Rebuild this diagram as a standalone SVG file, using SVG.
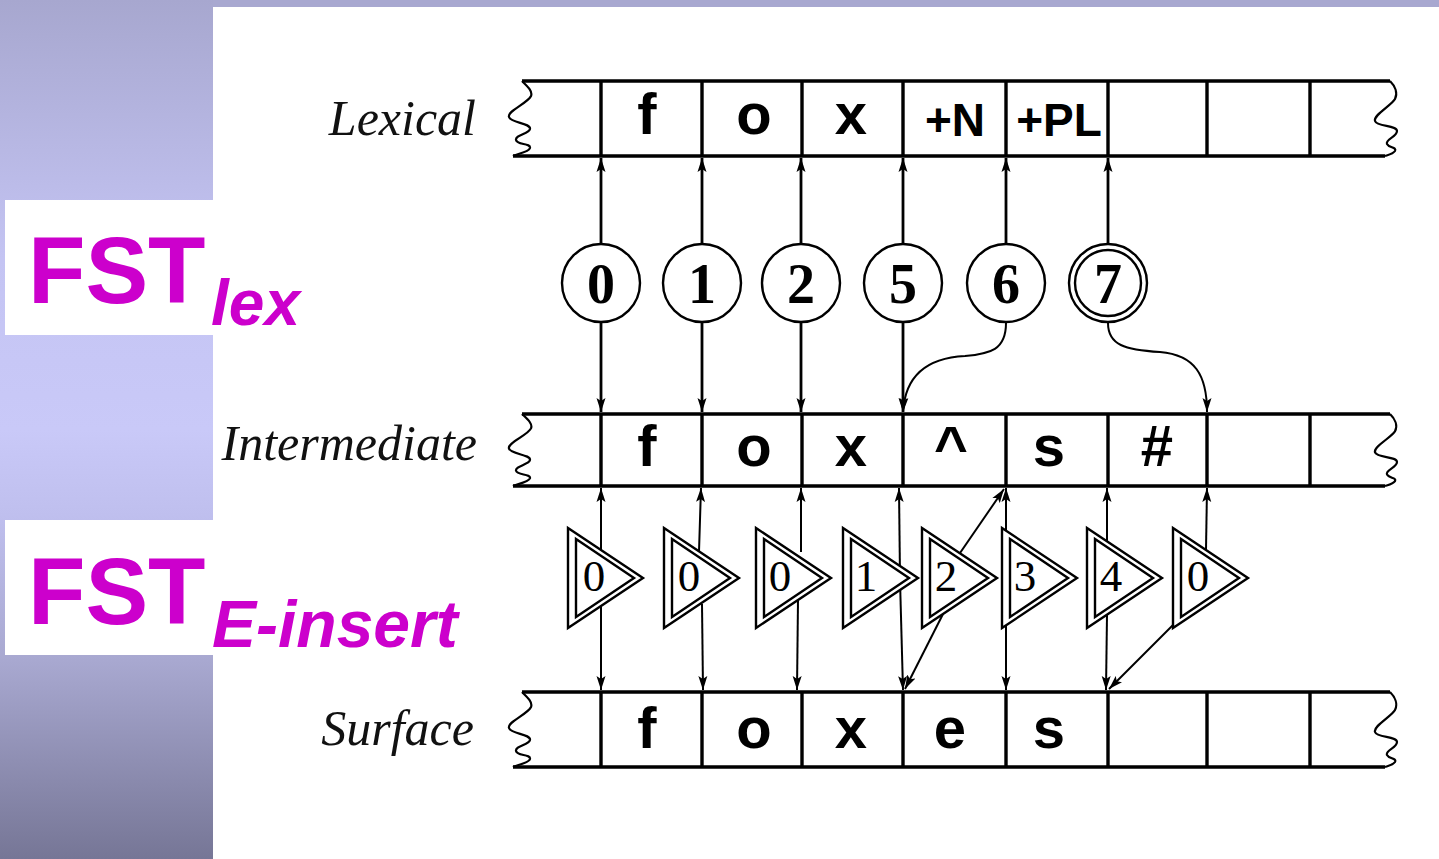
<svg xmlns="http://www.w3.org/2000/svg" width="1439" height="859" viewBox="0 0 1439 859">
<defs>
<linearGradient id="strip" x1="0" y1="0" x2="0" y2="859" gradientUnits="userSpaceOnUse">
<stop offset="0" stop-color="#a7a7cf"/>
<stop offset="0.3" stop-color="#c4c4f3"/>
<stop offset="0.5" stop-color="#c9c9f8"/>
<stop offset="0.6" stop-color="#bfbfee"/>
<stop offset="0.77" stop-color="#a8a8d0"/>
<stop offset="1" stop-color="#767696"/>
</linearGradient>
<marker id="ah" viewBox="0 0 14 10" refX="14" refY="5" markerWidth="14" markerHeight="10" markerUnits="userSpaceOnUse" orient="auto">
<path d="M0,0.5 L14,5 L0,9.5 L3,5 z" fill="#000"/>
</marker>
<path id="sqL" d="M9,0 C14,5 20,10 18,15 C15,22 -6,30 -4,36 C-2,42 18,42 17,48 C16,53 2,54 3,59 C4,64 18,62 17,67 C16,71 4,73 0,75"/>
<path id="sqR" d="M5,0 C10,5 13,12 10,18 C7,24 -12,34 -10,40 C-8,46 12,44 12,50 C12,56 0,58 2,63 C4,67 12,66 10,70 C8,73 3,74 0,75"/>
<path id="tri" d="M0,0 L75,50 L0,100 Z M8,11 L66,50 L8,89 Z"/>
</defs>
<style>
.tape{stroke:#000;stroke-width:3.4;fill:none}
.sq{stroke:#000;stroke-width:2.2;fill:none}
.sym{font-family:"Liberation Sans",Arial,sans-serif;font-weight:bold;font-size:58px;text-anchor:middle;fill:#000}
.sym2{font-family:"Liberation Sans",Arial,sans-serif;font-weight:bold;font-size:46px;text-anchor:middle;fill:#000}
.lab{font-family:"Liberation Serif","Times New Roman",serif;font-style:italic;font-size:50px;text-anchor:end;fill:#111}
.st{fill:#fff;stroke:#000;stroke-width:2.4}
.stn{font-family:"Liberation Serif","Times New Roman",serif;font-weight:bold;font-size:56px;text-anchor:middle;fill:#000}
.tr{fill:#fff;stroke:#000;stroke-width:2.4}
.trn{font-family:"Liberation Serif","Times New Roman",serif;font-size:45px;text-anchor:middle;fill:#000}
.c1{stroke:#000;stroke-width:2.8;fill:none}
.c2{stroke:#000;stroke-width:2;fill:none}
.fst{font-family:"Liberation Sans",Arial,sans-serif;font-weight:bold;fill:#cc00cc}
</style>

<!-- background -->
<rect x="0" y="0" width="1439" height="859" fill="#fff"/>
<rect x="0" y="0" width="213" height="859" fill="url(#strip)"/>
<rect x="213" y="0" width="1226" height="7" fill="#a8a8d0"/>

<g id="fst-lex-label">
<rect x="5" y="200" width="208" height="135" fill="#fff"/>
<text class="fst" x="28" y="303" font-size="94">FST</text>
<text class="fst" x="211" y="325" font-size="64" font-style="italic">lex</text>
</g>
<g id="fst-einsert-label">
<rect x="5" y="520" width="208" height="135" fill="#fff"/>
<text class="fst" x="28" y="624" font-size="94">FST</text>
<text class="fst" x="212" y="647" font-size="66" font-style="italic">E-insert</text>
</g>

<!-- tapes -->
<g id="tape-lexical">
<text class="lab" x="476" y="135">Lexical</text>
<path class="tape" d="M522,81 H1390 M513,156 H1385 M601,81 V156 M702,81 V156 M802,81 V156 M903,81 V156 M1006,81 V156 M1108,81 V156 M1207,81 V156 M1310,81 V156"/>
<use href="#sqL" class="sq" transform="translate(513,81)"/>
<use href="#sqR" class="sq" transform="translate(1385,81)"/>
<text class="sym" x="647" y="134">f</text>
<text class="sym" x="754" y="134">o</text>
<text class="sym" x="851" y="134">x</text>
<text class="sym2" x="955" y="136">+N</text>
<text class="sym2" x="1059" y="136">+PL</text>
</g>

<g id="tape-intermediate">
<text class="lab" x="477" y="460">Intermediate</text>
<path class="tape" d="M522,414 H1390 M513,486 H1385 M601,414 V486 M702,414 V486 M802,414 V486 M903,414 V486 M1006,414 V486 M1108,414 V486 M1207,414 V486 M1310,414 V486"/>
<use href="#sqL" class="sq" transform="translate(513,414) scale(1,0.96)"/>
<use href="#sqR" class="sq" transform="translate(1385,414) scale(1,0.96)"/>
<text class="sym" x="647" y="466">f</text>
<text class="sym" x="754" y="466">o</text>
<text class="sym" x="851" y="466">x</text>
<text class="sym" x="951" y="466">^</text>
<text class="sym" x="1049" y="466">s</text>
<text class="sym" x="1157" y="466">#</text>
</g>

<g id="tape-surface">
<text class="lab" x="474" y="745">Surface</text>
<path class="tape" d="M522,692 H1390 M513,767 H1385 M601,692 V767 M702,692 V767 M802,692 V767 M903,692 V767 M1006,692 V767 M1108,692 V767 M1207,692 V767 M1310,692 V767"/>
<use href="#sqL" class="sq" transform="translate(513,692)"/>
<use href="#sqR" class="sq" transform="translate(1385,692)"/>
<text class="sym" x="647" y="748">f</text>
<text class="sym" x="754" y="748">o</text>
<text class="sym" x="851" y="748">x</text>
<text class="sym" x="950" y="748">e</text>
<text class="sym" x="1049" y="748">s</text>
</g>

<!-- connectors -->
<g id="connectors">
<g class="c1" marker-end="url(#ah)">
<path d="M601,245 V158"/>
<path d="M702,245 V158"/>
<path d="M801,245 V158"/>
<path d="M903,245 V158"/>
<path d="M1006,245 V158"/>
<path d="M1108,245 V158"/>
<path d="M601,323 V412"/>
<path d="M702,323 V412"/>
<path d="M801,323 V412"/>
<path d="M903,323 V412"/>
</g>
<g class="c2" marker-end="url(#ah)">
<path d="M1006,323 C1006,350 990,354 965,356 C925,358 905,378 903,412"/>
<path d="M1108,323 C1108,345 1125,350 1160,352 C1195,355 1207,375 1207,412"/>
<path d="M601,550 V488"/>
<path d="M601,606 V690"/>
<path d="M699,552 L701,488"/>
<path d="M702,604 L703,690"/>
<path d="M801,552 V488"/>
<path d="M798,600 L797,690"/>
<path d="M900,577 L899,488"/>
<path d="M900,580 L903,690"/>
<path d="M960,553 L1004,489"/>
<path d="M943,614 L905,689"/>
<path d="M1006,531 V488"/>
<path d="M1006,625 V690"/>
<path d="M1107,541 V488"/>
<path d="M1107,615 L1106,690"/>
<path d="M1206,550 L1207,488"/>
<path d="M1174,624 L1109,689"/>
</g>
</g>

<!-- FST lex states -->
<g id="state-0"><circle class="st" cx="601" cy="283" r="39"/><text class="stn" x="601" y="303">0</text></g>
<g id="state-1"><circle class="st" cx="702" cy="283" r="39"/><text class="stn" x="702" y="303">1</text></g>
<g id="state-2"><circle class="st" cx="801" cy="283" r="39"/><text class="stn" x="801" y="303">2</text></g>
<g id="state-5"><circle class="st" cx="903" cy="283" r="39"/><text class="stn" x="903" y="303">5</text></g>
<g id="state-6"><circle class="st" cx="1006" cy="283" r="39"/><text class="stn" x="1006" y="303">6</text></g>
<g id="state-7"><circle class="st" cx="1108" cy="283" r="39"/><circle class="st" cx="1108" cy="283" r="33"/><text class="stn" x="1108" y="303">7</text></g>

<!-- E-insert states -->
<g id="e-state-a"><use href="#tri" class="tr" transform="translate(568,528)"/><text class="trn" x="594" y="591">0</text></g>
<g id="e-state-b"><use href="#tri" class="tr" transform="translate(664,528)"/><text class="trn" x="689" y="591">0</text></g>
<g id="e-state-c"><use href="#tri" class="tr" transform="translate(756,528)"/><text class="trn" x="780" y="591">0</text></g>
<g id="e-state-d"><use href="#tri" class="tr" transform="translate(843,528)"/><text class="trn" x="866" y="591">1</text></g>
<g id="e-state-e"><use href="#tri" class="tr" transform="translate(922,528)"/><text class="trn" x="946" y="591">2</text></g>
<g id="e-state-f"><use href="#tri" class="tr" transform="translate(1002,528)"/><text class="trn" x="1025" y="591">3</text></g>
<g id="e-state-g"><use href="#tri" class="tr" transform="translate(1087,528)"/><text class="trn" x="1111" y="591">4</text></g>
<g id="e-state-h"><use href="#tri" class="tr" transform="translate(1173,528)"/><text class="trn" x="1198" y="591">0</text></g>
</svg>
